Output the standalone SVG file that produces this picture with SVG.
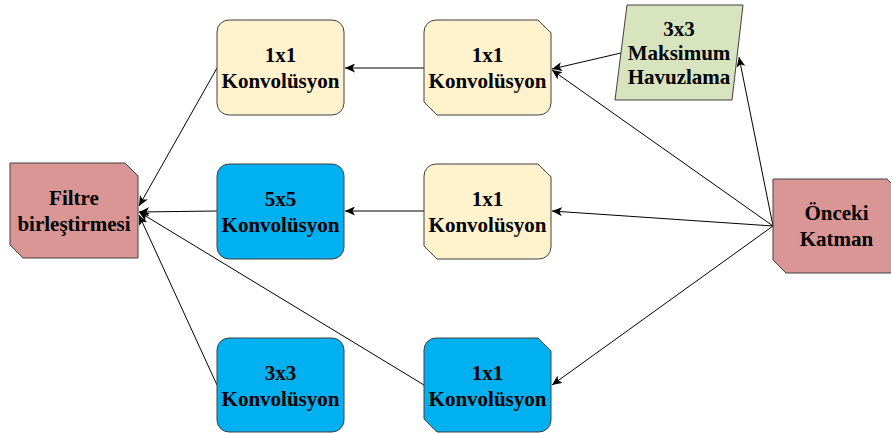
<svg xmlns="http://www.w3.org/2000/svg" width="891" height="434" viewBox="0 0 891 434">
<style>
.yel{fill:#FFF2CC;stroke:#404040;stroke-width:1}
.blu{fill:#00B0F0;stroke:#404040;stroke-width:1}
.pnk{fill:#D99694;stroke:#404040;stroke-width:1}
.grn{fill:#D7E4BD;stroke:#404040;stroke-width:1}
text{font-family:"Liberation Serif","Times New Roman",serif;font-weight:bold;font-size:21px;fill:#000;text-anchor:middle}
.ln{stroke:#000;stroke-width:1;fill:none;marker-end:url(#ah)}
</style>
<defs>
<marker id="ah" markerUnits="userSpaceOnUse" markerWidth="11" markerHeight="9" refX="10" refY="4.5" orient="auto">
<path d="M0,0 L10,4.5 L0,9 L2.5,4.5 Z" fill="#000"/>
</marker>
</defs>
<rect width="891" height="434" fill="#fff"/>
<g id="connectors">
<line class="ln" x1="424" y1="68" x2="345" y2="68"/>
<line class="ln" x1="621" y1="53" x2="552" y2="69"/>
<line class="ln" x1="773" y1="226" x2="739" y2="57"/>
<line class="ln" x1="773" y1="226" x2="552" y2="70"/>
<line class="ln" x1="773" y1="226" x2="552" y2="211"/>
<line class="ln" x1="773" y1="226" x2="552" y2="385"/>
<line class="ln" x1="424" y1="211" x2="345" y2="211"/>
<line class="ln" x1="424" y1="385" x2="139" y2="212"/>
<line class="ln" x1="217" y1="68" x2="139" y2="206"/>
<line class="ln" x1="217" y1="211" x2="139" y2="212"/>
<line class="ln" x1="217" y1="385" x2="139" y2="215"/>
</g>
<g id="filtre">
<path class="pnk" d="M10 163 H125 L138 176 V258 H23 L10 245 Z"/>
<text x="74" y="205">Filtre</text>
<text x="74" y="231">birleştirmesi</text>
</g>
<g id="conv1x1_left">
<rect class="yel" x="217" y="20" width="127" height="95" rx="12" ry="12"/>
<text x="280.5" y="62">1x1</text>
<text x="280.5" y="88">Konvolüsyon</text>
</g>
<g id="conv5x5">
<rect class="blu" x="217" y="164" width="127" height="95" rx="12" ry="12"/>
<text x="280.5" y="206">5x5</text>
<text x="280.5" y="232">Konvolüsyon</text>
</g>
<g id="conv3x3">
<rect class="blu" x="217" y="338" width="127" height="94" rx="12" ry="12"/>
<text x="280.5" y="380">3x3</text>
<text x="280.5" y="406">Konvolüsyon</text>
</g>
<g id="conv1x1_top">
<path class="yel" d="M436 20 H538 L551 33 V103 A12 12 0 0 1 539 115 H437 L424 102 V32 A12 12 0 0 1 436 20 Z"/>
<text x="487.5" y="62">1x1</text>
<text x="487.5" y="88">Konvolüsyon</text>
</g>
<g id="conv1x1_mid">
<path class="yel" d="M436 164 H538 L551 177 V247 A12 12 0 0 1 539 259 H437 L424 246 V176 A12 12 0 0 1 436 164 Z"/>
<text x="487.5" y="206">1x1</text>
<text x="487.5" y="232">Konvolüsyon</text>
</g>
<g id="conv1x1_bot">
<path class="blu" d="M436 338 H538 L551 351 V420 A12 12 0 0 1 539 432 H437 L424 419 V350 A12 12 0 0 1 436 338 Z"/>
<text x="487.5" y="380">1x1</text>
<text x="487.5" y="406">Konvolüsyon</text>
</g>
<g id="maxpool">
<path class="grn" d="M627 5 H743 L732 100 H615 Z"/>
<text x="679" y="36">3x3</text>
<text x="679" y="60">Maksimum</text>
<text x="679" y="84">Havuzlama</text>
</g>
<g id="onceki">
<path class="pnk" d="M773 179 H887 L900 192 V273 H786 L773 260 Z"/>
<text x="836.5" y="220">Önceki</text>
<text x="836.5" y="246">Katman</text>
</g>
</svg>
